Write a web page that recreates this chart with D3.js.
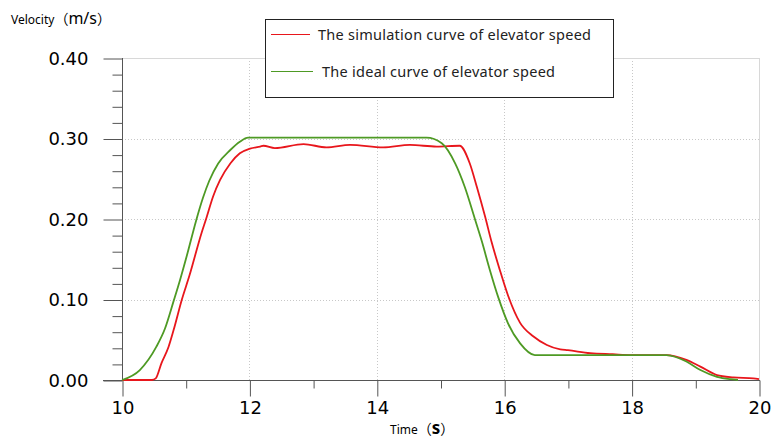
<!DOCTYPE html>
<html>
<head>
<meta charset="utf-8">
<script src="https://cdnjs.cloudflare.com/ajax/libs/d3/7.8.5/d3.min.js"></script>
<style>
  body { margin: 0; background: #fff; }
  svg { display: block; }
  .tick text { font-family: "DejaVu Sans", sans-serif; font-size: 18px; fill: #000; }
  .tick line { stroke: #555; }
</style>
</head>
<body>
<div id="chart"></div>
<script>
// simulation curve (red)
const simTime  = [10.0, 10.47, 10.53, 10.62, 10.73, 10.81, 10.94, 11.06, 11.25, 11.32, 11.43, 11.54, 11.70, 11.85, 12.01, 12.17, 12.22, 12.40, 12.85, 13.21, 13.58, 14.10, 14.52, 14.94, 15.30, 15.46, 15.57, 15.70, 15.80, 15.93, 16.06, 16.25, 16.46, 16.67, 16.88, 17.0, 17.35, 17.7, 18.0, 18.55, 18.86, 19.08, 19.34, 19.6, 19.91, 20.0]
const simSpeed = [0.0, 0.0, 0.002, 0.021, 0.041, 0.062, 0.100, 0.130, 0.183, 0.200, 0.228, 0.2485, 0.269, 0.2816, 0.2875, 0.290, 0.291, 0.288, 0.293, 0.289, 0.292, 0.289, 0.292, 0.290, 0.291, 0.269, 0.240, 0.203, 0.172, 0.137, 0.105, 0.071, 0.054, 0.0435, 0.038, 0.037, 0.0333, 0.032, 0.031, 0.031, 0.025, 0.0166, 0.0062, 0.0033, 0.002, 0.001]

// ideal curve (green)
const idealTime  = [10.0, 10.28, 10.54, 10.675, 10.81, 10.91, 11.03, 11.16, 11.27, 11.37, 11.51, 11.70, 11.85, 11.98, 14.78, 15.02, 15.23, 15.38, 15.54, 15.65, 15.77, 15.91, 16.06, 16.25, 16.48, 18.55, 18.86, 19.08, 19.34, 19.55, 19.67]
const idealSpeed = [0.0, 0.0124, 0.0414, 0.064, 0.098, 0.124, 0.158, 0.197, 0.226, 0.2475, 0.269, 0.2857, 0.296, 0.301, 0.301, 0.294, 0.269, 0.240, 0.200, 0.172, 0.138, 0.102, 0.0704, 0.0455, 0.031, 0.031, 0.023, 0.0124, 0.004, 0.001, 0.0]

const xTicks = [10, 12, 14, 16, 18, 20]
const xMinor = [11, 13, 15, 17, 19]
const yTicks = [0.0, 0.1, 0.2, 0.3, 0.4]
const yMinor = [0.02, 0.04, 0.06, 0.08, 0.12, 0.14, 0.16, 0.18, 0.22, 0.24, 0.26, 0.28, 0.32, 0.34, 0.36, 0.38]
const seriesNames = ['The simulation curve of elevator speed', 'The ideal curve of elevator speed']

const w = 771
const h = 439
const red = '#e8161c'
const green = '#4e9a24'

const x = d3.scaleLinear().domain([10, 20]).range([122, 759])
const y = d3.scaleLinear().domain([0, 0.4]).range([380, 58])

const svg = d3.select('#chart')
    .append('svg')
    .attr('width', w)
    .attr('height', h)

// grid
svg.append('g')
    .selectAll('line')
    .data(yTicks.slice(1, 4))
    .enter()
    .append('line')
    .attr('x1', x(10)).attr('x2', x(20))
    .attr('y1', d => Math.round(y(d)) + 0.5).attr('y2', d => Math.round(y(d)) + 0.5)
    .attr('stroke', '#c8c8c8')
    .attr('stroke-dasharray', '1,2')

svg.append('g')
    .selectAll('line')
    .data(xTicks.slice(1, 5))
    .enter()
    .append('line')
    .attr('x1', d => Math.round(x(d)) + 0.5).attr('x2', d => Math.round(x(d)) + 0.5)
    .attr('y1', y(0.4)).attr('y2', y(0))
    .attr('stroke', '#c8c8c8')
    .attr('stroke-dasharray', '1,2')

// top and right frame lines
svg.append('line')
    .attr('x1', x(10)).attr('x2', x(20))
    .attr('y1', Math.round(y(0.4)) + 0.5).attr('y2', Math.round(y(0.4)) + 0.5)
    .attr('stroke', '#d8d8d8')
svg.append('line')
    .attr('x1', Math.round(x(20)) + 0.5).attr('x2', Math.round(x(20)) + 0.5)
    .attr('y1', y(0.4)).attr('y2', y(0))
    .attr('stroke', '#d8d8d8')

// y axis
const yAxis = d3.axisLeft(y).tickValues(yTicks).tickSize(19).tickPadding(15).tickFormat(d3.format('.2f'))
svg.append('g')
    .attr('id', 'y-axis')
    .attr('transform', 'translate(' + (Math.round(x(10)) + 0.5) + ',0.5)')
    .call(yAxis)
    .call(g => g.select('.domain').remove())

svg.append('g')
    .attr('transform', 'translate(' + (Math.round(x(10)) + 0.5) + ',0.5)')
    .call(d3.axisLeft(y).tickValues(yMinor).tickSize(10).tickFormat(''))
    .call(g => g.select('.domain').remove())

// x axis
const xAxis = d3.axisBottom(x).tickValues(xTicks).tickSize(16).tickPadding(5).tickFormat(d3.format('d'))
svg.append('g')
    .attr('id', 'x-axis')
    .attr('transform', 'translate(0.5,' + (Math.round(y(0)) + 0.5) + ')')
    .call(xAxis)
    .call(g => g.select('.domain').remove())

svg.append('g')
    .attr('transform', 'translate(0.5,' + (Math.round(y(0)) + 0.5) + ')')
    .call(d3.axisBottom(x).tickValues(xMinor).tickSize(8).tickFormat(''))
    .call(g => g.select('.domain').remove())

// axis lines
svg.append('line')
    .attr('x1', Math.round(x(10)) + 0.5).attr('x2', Math.round(x(10)) + 0.5)
    .attr('y1', y(0.4)).attr('y2', y(0))
    .attr('stroke', '#555')
svg.append('line')
    .attr('x1', 103).attr('x2', x(20) + 1)
    .attr('y1', Math.round(y(0)) + 0.5).attr('y2', Math.round(y(0)) + 0.5)
    .attr('stroke', '#555')

// curves
const line = d3.line()
    .x(d => x(d[0]))
    .y(d => y(d[1]))
    .curve(d3.curveMonotoneX)

svg.append('path')
    .datum(simTime.map((t, i) => [t, simSpeed[i]]))
    .attr('d', line)
    .attr('fill', 'none')
    .attr('stroke', red)
    .attr('stroke-width', 1.8)

svg.append('path')
    .datum(idealTime.map((t, i) => [t, idealSpeed[i]]))
    .attr('d', line)
    .attr('fill', 'none')
    .attr('stroke', green)
    .attr('stroke-width', 1.8)

// axis titles
const yTitle = svg.append('text')
    .attr('x', 11)
    .attr('y', 24)
    .attr('font-family', 'Noto Sans, sans-serif')
    .attr('fill', '#000')
yTitle.append('tspan').attr('font-size', 12).text('Velocity')
yTitle.append('tspan').attr('font-family', 'Noto Sans CJK SC').attr('font-size', 14).text('（')
yTitle.append('tspan').attr('font-size', 16).text('m/s')
yTitle.append('tspan').attr('font-family', 'Noto Sans CJK SC').attr('font-size', 14).text('）')

const xTitle = svg.append('text')
    .attr('x', 390)
    .attr('y', 434)
    .attr('font-family', 'Noto Sans, sans-serif')
    .attr('fill', '#000')
xTitle.append('tspan').attr('font-size', 12).text('Time')
xTitle.append('tspan').attr('font-family', 'Noto Sans CJK SC').attr('font-size', 14).text('（')
xTitle.append('tspan').attr('font-size', 17).attr('font-weight', 'bold').text('s')
xTitle.append('tspan').attr('font-family', 'Noto Sans CJK SC').attr('font-size', 14).text('）')

// legend
const legend = svg.append('g')
legend.append('rect')
    .attr('x', 265.5).attr('y', 19.5)
    .attr('width', 348).attr('height', 78)
    .attr('fill', '#fff')
    .attr('stroke', '#222')

const legendRows = [
    { name: seriesNames[0], color: red, y: 34, x1: 271, x2: 310, tx: 318, len: 273 },
    { name: seriesNames[1], color: green, y: 71, x1: 271, x2: 313, tx: 322, len: 233 }
]
legendRows.forEach(r => {
    legend.append('line')
        .attr('x1', r.x1).attr('x2', r.x2)
        .attr('y1', r.y + 0.5).attr('y2', r.y + 0.5)
        .attr('stroke', r.color)
    legend.append('text')
        .attr('x', r.tx)
        .attr('y', r.y + 5.5)
        .attr('font-family', 'Noto Sans, sans-serif')
        .attr('font-size', 14.5)
        .attr('textLength', r.len)
        .attr('lengthAdjust', 'spacing')
        .attr('fill', '#222')
        .text(r.name)
})
</script>
</body>
</html>
